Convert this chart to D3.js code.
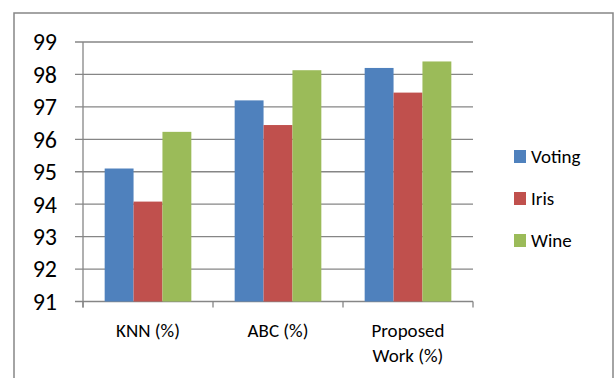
<!DOCTYPE html>
<html>
<head>
<meta charset="utf-8">
<script src="https://cdn.jsdelivr.net/npm/d3@7"></script>
<style>
  body { margin: 0; background: #fff; }
  text { font-family: Carlito, Calibri, Lato, sans-serif; fill: #000; }
</style>
</head>
<body>
<div id="content"></div>
<script>
// datas
const categories = ["KNN (%)", "ABC (%)", "Proposed Work (%)"];
const seriesNames = ["Voting", "Iris", "Wine"];
const voting = [95.1, 97.2, 98.2];
const iris = [94.08, 96.44, 97.44];
const wine = [96.23, 98.13, 98.4];
const yTicks = [91, 92, 93, 94, 95, 96, 97, 98, 99];
const colors = ["#4F81BD", "#C0504D", "#9BBB59"];

const rows = categories.map((c, i) => ({cat: c, vals: [voting[i], iris[i], wine[i]]}));

// view
const w = 614;
const h = 378;
const plotL = 83, plotR = 473, plotT = 42, plotB = 301.5;

const svg = d3.select("#content")
            .append("svg")
            .attr("width", w)
            .attr("height", h);

// outer frame (bottom edge is cut off)
svg.append("path")
   .attr("d", `M14,${h + 2}V13H613V${h + 2}`)
   .attr("fill", "none")
   .attr("stroke", "#868686")
   .attr("stroke-width", 1.5);

const x = d3.scaleBand().domain(categories).range([plotL, plotR]).paddingInner(0).paddingOuter(0);
const y = d3.scaleLinear().domain([91, 99]).range([plotB, plotT]);

// gridlines
svg.selectAll("line.grid")
   .data(yTicks)
   .enter()
   .append("line")
   .attr("class", "grid")
   .attr("x1", plotL - 8)
   .attr("x2", plotR)
   .attr("y1", d => y(d))
   .attr("y2", d => y(d))
   .attr("stroke", "#868686")
   .attr("stroke-width", 1.3);

// bars
const bw = x.bandwidth() / 4.5;
const g = svg.selectAll("g.cat")
   .data(rows)
   .enter()
   .append("g")
   .attr("class", "cat")
   .attr("transform", d => `translate(${x(d.cat) + bw * 0.75},0)`);

g.selectAll("rect")
   .data(d => d.vals)
   .enter()
   .append("rect")
   .attr("x", (d, i) => i * bw)
   .attr("y", d => y(d))
   .attr("width", bw)
   .attr("height", d => y(91) - y(d))
   .attr("fill", (d, i) => colors[i]);

// y axis
svg.append("line")
   .attr("x1", plotL).attr("x2", plotL)
   .attr("y1", plotT).attr("y2", plotB + 6)
   .attr("stroke", "#868686").attr("stroke-width", 1.3);

// x ticks
svg.selectAll("line.xt")
   .data(d3.range(categories.length + 1))
   .enter()
   .append("line")
   .attr("class", "xt")
   .attr("x1", i => plotL + i * x.step())
   .attr("x2", i => plotL + i * x.step())
   .attr("y1", plotB)
   .attr("y2", plotB + 6)
   .attr("stroke", "#868686").attr("stroke-width", 1.3);

// y labels
svg.selectAll("text.yl")
   .data(yTicks)
   .enter()
   .append("text")
   .attr("class", "yl")
   .attr("x", 57)
   .attr("y", d => y(d))
   .attr("dy", "0.35em")
   .attr("text-anchor", "end")
   .style("font-size", "24px")
   .text(d => d);

// category labels
const cl = svg.selectAll("text.xl")
   .data(categories)
   .enter()
   .append("text")
   .attr("class", "xl")
   .attr("text-anchor", "middle")
   .style("font-size", "19px");

cl.each(function(d) {
  const lines = d === "Proposed Work (%)" ? ["Proposed", "Work (%)"] : [d];
  d3.select(this).selectAll("tspan")
    .data(lines)
    .enter()
    .append("tspan")
    .attr("x", x(d) + x.bandwidth() / 2)
    .attr("y", (t, i) => 336.5 + i * 25.5)
    .text(t => t);
});

// legend
const lg = svg.selectAll("g.leg")
   .data(seriesNames)
   .enter()
   .append("g")
   .attr("class", "leg")
   .attr("transform", (d, i) => `translate(514,${150 + i * 42})`);

lg.append("rect")
  .attr("width", 12)
  .attr("height", 13)
  .attr("fill", (d, i) => colors[i]);

lg.append("text")
  .attr("x", 17)
  .attr("y", 6.5)
  .attr("dy", "0.35em")
  .style("font-size", "19px")
  .text(d => d);
</script>
</body>
</html>
